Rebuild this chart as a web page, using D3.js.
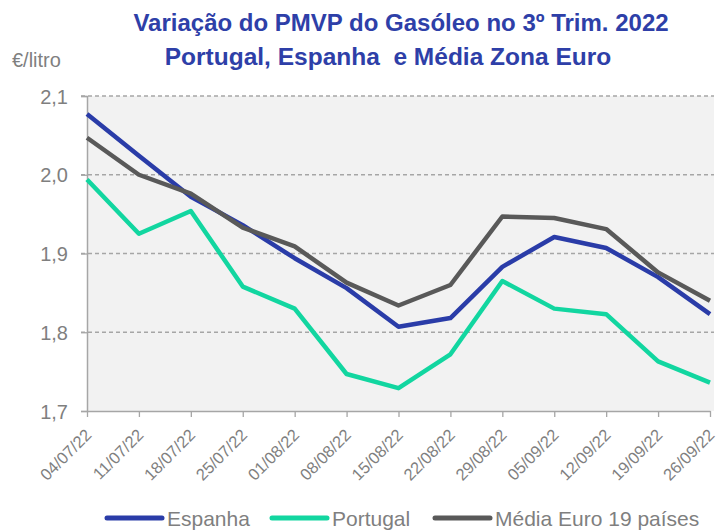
<!DOCTYPE html>
<html>
<head>
<meta charset="utf-8">
<script src="https://cdn.jsdelivr.net/npm/d3@7"></script>
<style>
  body { margin: 0; background: #fff; }
  svg { display: block; font-family: "Liberation Sans", Arial, sans-serif; }
</style>
</head>
<body>
<svg id="chart" width="717" height="531"></svg>
<script>
// weekly dates (x categories)
const weeks = ['04/07/22', '11/07/22', '18/07/22', '25/07/22', '01/08/22', '08/08/22', '15/08/22',
  '22/08/22', '29/08/22', '05/09/22', '12/09/22', '19/09/22', '26/09/22']

// €/litro
const espanha = [2.077, 2.024, 1.972, 1.936, 1.894, 1.856, 1.807, 1.818, 1.883, 1.921, 1.907, 1.870, 1.823]
const portugal = [1.994, 1.925, 1.954, 1.858, 1.830, 1.747, 1.729, 1.772, 1.865, 1.830, 1.823, 1.763, 1.736]
const mediaEuro = [2.047, 2.000, 1.976, 1.933, 1.909, 1.863, 1.834, 1.860, 1.947, 1.945, 1.931, 1.876, 1.840]

const yTicks = [1.7, 1.8, 1.9, 2.0, 2.1]

const seriesNames = ['Espanha', 'Portugal', 'Média Euro 19 países']
const seriesColors = ['#2a3ca8', '#12d6a0', '#595959']

const series = [espanha, portugal, mediaEuro].map((values, i) => ({
  name: seriesNames[i],
  color: seriesColors[i],
  values: values.map((v, j) => ({ week: weeks[j], v }))
}))

const $svg = d3.select('#chart')

const plot = { left: 87, right: 710, top: 96, bottom: 411 }

const scaleX = d3.scalePoint()
  .domain(weeks)
  .range([plot.left, plot.right])

const scaleY = d3.scaleLinear()
  .domain([1.7, 2.1])
  .range([plot.bottom, plot.top])

const fmt = d => d3.format('.1f')(d).replace('.', ',')

// plot background
$svg.append('rect')
  .attr('x', plot.left)
  .attr('y', plot.top)
  .attr('width', 714 - plot.left)
  .attr('height', plot.bottom - plot.top)
  .attr('fill', '#f2f2f2')

// gridlines
$svg.append('g')
  .selectAll('line')
  .data(yTicks.slice(1))
  .join('line')
  .attr('x1', plot.left - 6)
  .attr('x2', 714)
  .attr('y1', d => scaleY(d))
  .attr('y2', d => scaleY(d))
  .attr('stroke', '#a6a6a6')
  .attr('stroke-width', 1.3)
  .attr('stroke-dasharray', '4,3')

// y axis
const yAxis = $svg.append('g')
  .attr('transform', `translate(${plot.left},0)`)
  .call(d3.axisLeft(scaleY).tickValues(yTicks).tickFormat(fmt).tickSize(6).tickPadding(13))
yAxis.select('.domain').attr('stroke', '#a6a6a6').attr('stroke-width', 1.5)
yAxis.selectAll('.tick line').attr('stroke', '#a6a6a6').attr('stroke-width', 1.3)
yAxis.selectAll('.tick text')
  .attr('fill', '#7f7f7f')
  .style('font-size', '20px')
  .attr('dy', '0.36em')

// x axis
const xAxis = $svg.append('g')
  .attr('transform', `translate(0,${plot.bottom})`)
  .call(d3.axisBottom(scaleX).tickSize(6).tickSizeOuter(0))
xAxis.select('.domain').attr('stroke', '#a6a6a6').attr('stroke-width', 1.5)
xAxis.selectAll('.tick line').attr('stroke', '#a6a6a6').attr('stroke-width', 1.3)
xAxis.selectAll('.tick text')
  .attr('fill', '#7f7f7f')
  .style('font-size', '16.5px')
  .attr('text-anchor', 'end')
  .attr('y', 0)
  .attr('dy', 0)
  .attr('transform', 'translate(5,25) rotate(-45)')

// lines
const line = d3.line()
  .x(d => scaleX(d.week))
  .y(d => scaleY(d.v))

$svg.append('g')
  .selectAll('path')
  .data(series)
  .join('path')
  .attr('d', d => line(d.values))
  .attr('fill', 'none')
  .attr('stroke', d => d.color)
  .attr('stroke-width', 4.5)
  .attr('stroke-linejoin', 'round')

// titles
const titleColor = '#2e3fa8'
$svg.append('text')
  .attr('x', 401).attr('y', 31)
  .attr('text-anchor', 'middle')
  .attr('fill', titleColor)
  .style('font-size', '24px')
  .style('font-weight', 'bold')
  .text('Variação do PMVP do Gasóleo no 3º Trim. 2022')

$svg.append('text')
  .attr('x', 388).attr('y', 65)
  .attr('text-anchor', 'middle')
  .attr('fill', titleColor)
  .style('font-size', '24.5px')
  .style('font-weight', 'bold')
  .style('white-space', 'pre')
  .text('Portugal, Espanha  e Média Zona Euro')

$svg.append('text')
  .attr('x', 12).attr('y', 67)
  .attr('fill', '#7f7f7f')
  .style('font-size', '20px')
  .text('€/litro')

// legend
const legendX = [107, 272, 435]
const $legend = $svg.append('g')
  .selectAll('g')
  .data(series)
  .join('g')
  .attr('transform', (d, i) => `translate(${legendX[i]},518)`)

$legend.append('line')
  .attr('x1', 0).attr('x2', 55)
  .attr('stroke', d => d.color)
  .attr('stroke-width', 5)
  .attr('stroke-linecap', 'round')

$legend.append('text')
  .attr('x', 60).attr('y', 8)
  .attr('fill', '#7f7f7f')
  .style('font-size', '21px')
  .text(d => d.name)
</script>
</body>
</html>
